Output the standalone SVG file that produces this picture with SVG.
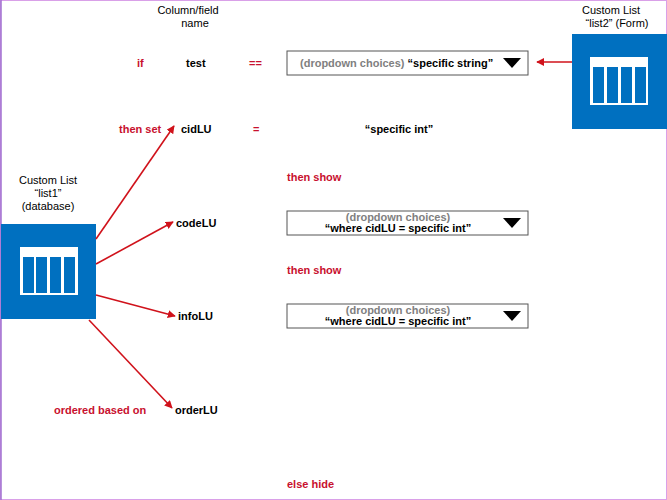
<svg xmlns="http://www.w3.org/2000/svg" width="667" height="500" viewBox="0 0 667 500">
<defs>
<marker id="ah" viewBox="0 0 10 10" refX="9" refY="5" markerWidth="5" markerHeight="5" orient="auto"><path d="M0,0 L10,5 L0,10 z" fill="#d0121b"/></marker>
</defs>
<style>
text{font-family:"Liberation Sans",Arial,sans-serif;font-size:11px}
.b{font-weight:bold;fill:#000}
.r{font-weight:bold;fill:#c8102e}
.g{font-weight:bold;fill:#808080}
.n{fill:#000}
.dd{fill:#fff;stroke:#555;stroke-width:1}
.list{fill:#0070c0}
.c{stroke:#d0121b;stroke-width:1.6;fill:none;marker-end:url(#ah)}
</style>
<rect x="0.5" y="0.5" width="666" height="499" fill="#fff" stroke="#d9a0e8"/>
<line x1="1" y1="0" x2="1" y2="500" stroke="#a070d0" stroke-width="1.5"/>
<text class="n" x="188" y="14" text-anchor="middle">Column/field</text>
<text class="n" x="195" y="27" text-anchor="middle">name</text>
<g id="list1">
<text class="n" x="48" y="184" text-anchor="middle">Custom List</text>
<text class="n" x="48" y="197" text-anchor="middle">“list1”</text>
<text class="n" x="48" y="210" text-anchor="middle">(database)</text>
<rect class="list" x="1" y="224" width="95" height="95"/>
<rect x="20" y="247" width="58" height="48" fill="#fff"/>
<rect class="list" x="23" y="257" width="11" height="36"/><rect class="list" x="36" y="257" width="11" height="36"/><rect class="list" x="50" y="257" width="11" height="36"/><rect class="list" x="64" y="257" width="11" height="36"/>
</g>
<g id="list2">
<text class="n" x="611" y="14" text-anchor="middle">Custom List</text>
<text class="n" x="617" y="27" text-anchor="middle">“list2” (Form)</text>
<rect class="list" x="572" y="34" width="95" height="95"/>
<rect x="590" y="57" width="58" height="48" fill="#fff"/>
<rect class="list" x="593" y="67" width="11" height="36"/><rect class="list" x="607" y="67" width="11" height="36"/><rect class="list" x="621" y="67" width="11" height="36"/><rect class="list" x="635" y="67" width="11" height="36"/>
</g>
<g id="row1">
<text class="r" x="137" y="67">if</text>
<text class="b" x="186" y="67">test</text>
<text class="r" x="249" y="67">==</text>
<rect class="dd" x="287" y="51" width="241" height="24"/>
<text x="300" y="67"><tspan class="g">(dropdown choices) </tspan><tspan class="b">“specific string”</tspan></text>
<path d="M503,58 L521,58 L512,68 z" fill="#000"/>
</g>
<g id="row2">
<text class="r" x="119" y="133">then set</text>
<text class="b" x="181" y="133">cidLU</text>
<text class="r" x="253" y="133">=</text>
<text class="b" x="399" y="133" text-anchor="middle">“specific int”</text>
</g>
<text class="r" x="287" y="181">then show</text>
<g id="row3">
<text class="b" x="176" y="227">codeLU</text>
<rect class="dd" x="287" y="211" width="241" height="24"/>
<text class="g" x="398" y="221" text-anchor="middle">(dropdown choices)</text>
<text class="b" x="398" y="232" text-anchor="middle">“where cidLU = specific int”</text>
<path d="M503,218 L521,218 L512,228 z" fill="#000"/>
</g>
<text class="r" x="287" y="274">then show</text>
<g id="row4">
<text class="b" x="178" y="320">infoLU</text>
<rect class="dd" x="287" y="304" width="241" height="24"/>
<text class="g" x="398" y="314" text-anchor="middle">(dropdown choices)</text>
<text class="b" x="398" y="325" text-anchor="middle">“where cidLU = specific int”</text>
<path d="M503,311 L521,311 L512,321 z" fill="#000"/>
</g>
<g id="row5">
<text class="r" x="54" y="414">ordered based on</text>
<text class="b" x="175" y="414">orderLU</text>
</g>
<text class="r" x="287" y="488">else hide</text>
<g id="connectors">
<line class="c" x1="96" y1="239" x2="174" y2="126"/>
<line class="c" x1="96" y1="264" x2="173" y2="222"/>
<line class="c" x1="96" y1="295" x2="175" y2="316"/>
<line class="c" x1="89" y1="320" x2="172" y2="408"/>
<line class="c" x1="572" y1="62" x2="537" y2="62"/>
</g>
</svg>
